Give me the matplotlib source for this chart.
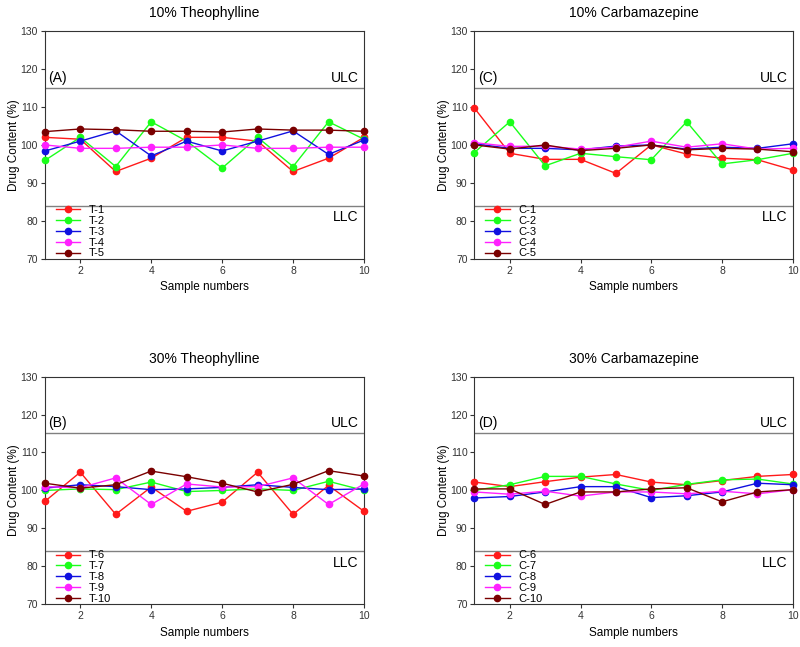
import numpy as np
import matplotlib
matplotlib.use('Agg')
import matplotlib.pyplot as plt

plt.rcParams['font.family'] = ['Liberation Sans', 'DejaVu Sans']

samples = np.arange(1, 11)

# 10% Theophylline
t1 = [102.0, 101.5, 93.0, 96.5, 102.0, 102.0, 101.0, 93.0, 96.5, 102.0]
t2 = [95.9, 102.0, 94.3, 106.1, 101.0, 93.9, 102.0, 94.3, 106.1, 101.5]
t3 = [98.4, 101.0, 103.7, 97.1, 101.0, 98.4, 101.0, 103.7, 97.5, 101.3]
t4 = [100.0, 99.1, 99.1, 99.4, 99.4, 100.0, 99.1, 99.1, 99.4, 99.4]
t5 = [103.5, 104.2, 104.0, 103.6, 103.6, 103.4, 104.2, 103.9, 103.9, 103.6]

# 10% Carbamazepine
c1 = [109.7, 97.8, 96.2, 96.2, 92.5, 100.0, 97.6, 96.5, 96.1, 93.4]
c2 = [98.0, 106.1, 94.5, 97.8, 96.9, 96.1, 106.1, 95.0, 96.1, 97.8]
c3 = [100.3, 99.1, 99.1, 98.7, 99.7, 100.0, 98.9, 99.4, 99.1, 100.3]
c4 = [100.6, 99.6, 99.7, 98.9, 99.4, 101.0, 99.4, 100.3, 98.9, 99.1]
c5 = [100.0, 98.9, 100.0, 98.5, 99.1, 100.0, 98.7, 99.1, 98.9, 98.2]

# 30% Theophylline
t6 = [97.1, 104.8, 93.7, 100.9, 94.5, 96.9, 104.8, 93.7, 101.3, 94.5]
t7 = [100.0, 100.4, 100.2, 102.2, 99.7, 100.0, 100.4, 100.0, 102.4, 100.0]
t8 = [100.6, 101.5, 101.0, 100.2, 100.4, 100.8, 101.5, 100.8, 100.2, 100.4]
t9 = [101.0, 100.7, 103.3, 96.3, 101.7, 100.9, 101.0, 103.3, 96.3, 101.7]
t10 = [101.9, 100.6, 101.5, 105.1, 103.6, 101.9, 99.6, 101.6, 105.2, 103.8]

# 30% Carbamazepine
c6 = [102.2, 101.0, 102.3, 103.5, 104.2, 102.2, 101.5, 102.6, 103.7, 104.2]
c7 = [100.0, 101.5, 103.7, 103.7, 101.7, 100.0, 101.6, 102.8, 103.0, 101.7]
c8 = [98.0, 98.4, 99.6, 101.0, 101.0, 98.1, 98.6, 99.6, 101.9, 101.5]
c9 = [99.6, 99.0, 99.8, 98.5, 99.6, 99.6, 99.1, 99.8, 99.1, 100.2]
c10 = [100.4, 100.4, 96.3, 99.6, 99.6, 100.4, 100.7, 97.0, 99.6, 100.2]

colors = ['#ff1a1a', '#1aff1a', '#1010e0', '#ff20ff', '#7a0000']
ulc, llc = 115, 84

panels = [
    ([0.056, 0.600, 0.399, 0.352], '10% Theophylline', '(A)',
     [t1, t2, t3, t4, t5], ['T-1', 'T-2', 'T-3', 'T-4', 'T-5']),
    ([0.593, 0.600, 0.398, 0.352], '10% Carbamazepine', '(C)',
     [c1, c2, c3, c4, c5], ['C-1', 'C-2', 'C-3', 'C-4', 'C-5']),
    ([0.056, 0.066, 0.399, 0.352], '30% Theophylline', '(B)',
     [t6, t7, t8, t9, t10], ['T-6', 'T-7', 'T-8', 'T-9', 'T-10']),
    ([0.593, 0.066, 0.398, 0.352], '30% Carbamazepine', '(D)',
     [c6, c7, c8, c9, c10], ['C-6', 'C-7', 'C-8', 'C-9', 'C-10']),
]

fig = plt.figure(figsize=(8, 6.47), dpi=100)
for rect, title, tag, series, names in panels:
    ax = fig.add_axes(rect)
    for s, n, c in zip(series, names, colors):
        ax.plot(samples, s, '-o', color=c, lw=1, ms=4.5, label=n, clip_on=False, zorder=3)
    ax.axhline(ulc, color='#808080', lw=1)
    ax.axhline(llc, color='#808080', lw=1)
    ax.text(1.1, ulc + 0.8, tag, fontsize=10, va='bottom', ha='left')
    ax.text(9.85, ulc + 0.8, 'ULC', fontsize=10, va='bottom', ha='right')
    ax.text(9.85, llc - 1.2, 'LLC', fontsize=10, va='top', ha='right')
    ax.set_xlim(1, 10)
    ax.set_ylim(70, 130)
    ax.set_xticks([2, 4, 6, 8, 10])
    ax.set_yticks([70, 80, 90, 100, 110, 120, 130])
    ax.tick_params(labelsize=7.5, direction='out', length=3, pad=2, colors='#333333')
    for sp in ax.spines.values():
        sp.set_color('#333333')
        sp.set_linewidth(0.8)
    ax.set_xlabel('Sample numbers', fontsize=8.5, labelpad=4)
    ax.set_ylabel('Drug Content (%)', fontsize=8.5, labelpad=0)
    ax.set_title(title, fontsize=10, pad=10)
    ax.legend(loc='lower left', frameon=False, fontsize=8, handlelength=2.2,
              labelspacing=0.08, borderaxespad=0.0, bbox_to_anchor=(0.02, -0.018))

plt.savefig('out.png', dpi=100)
